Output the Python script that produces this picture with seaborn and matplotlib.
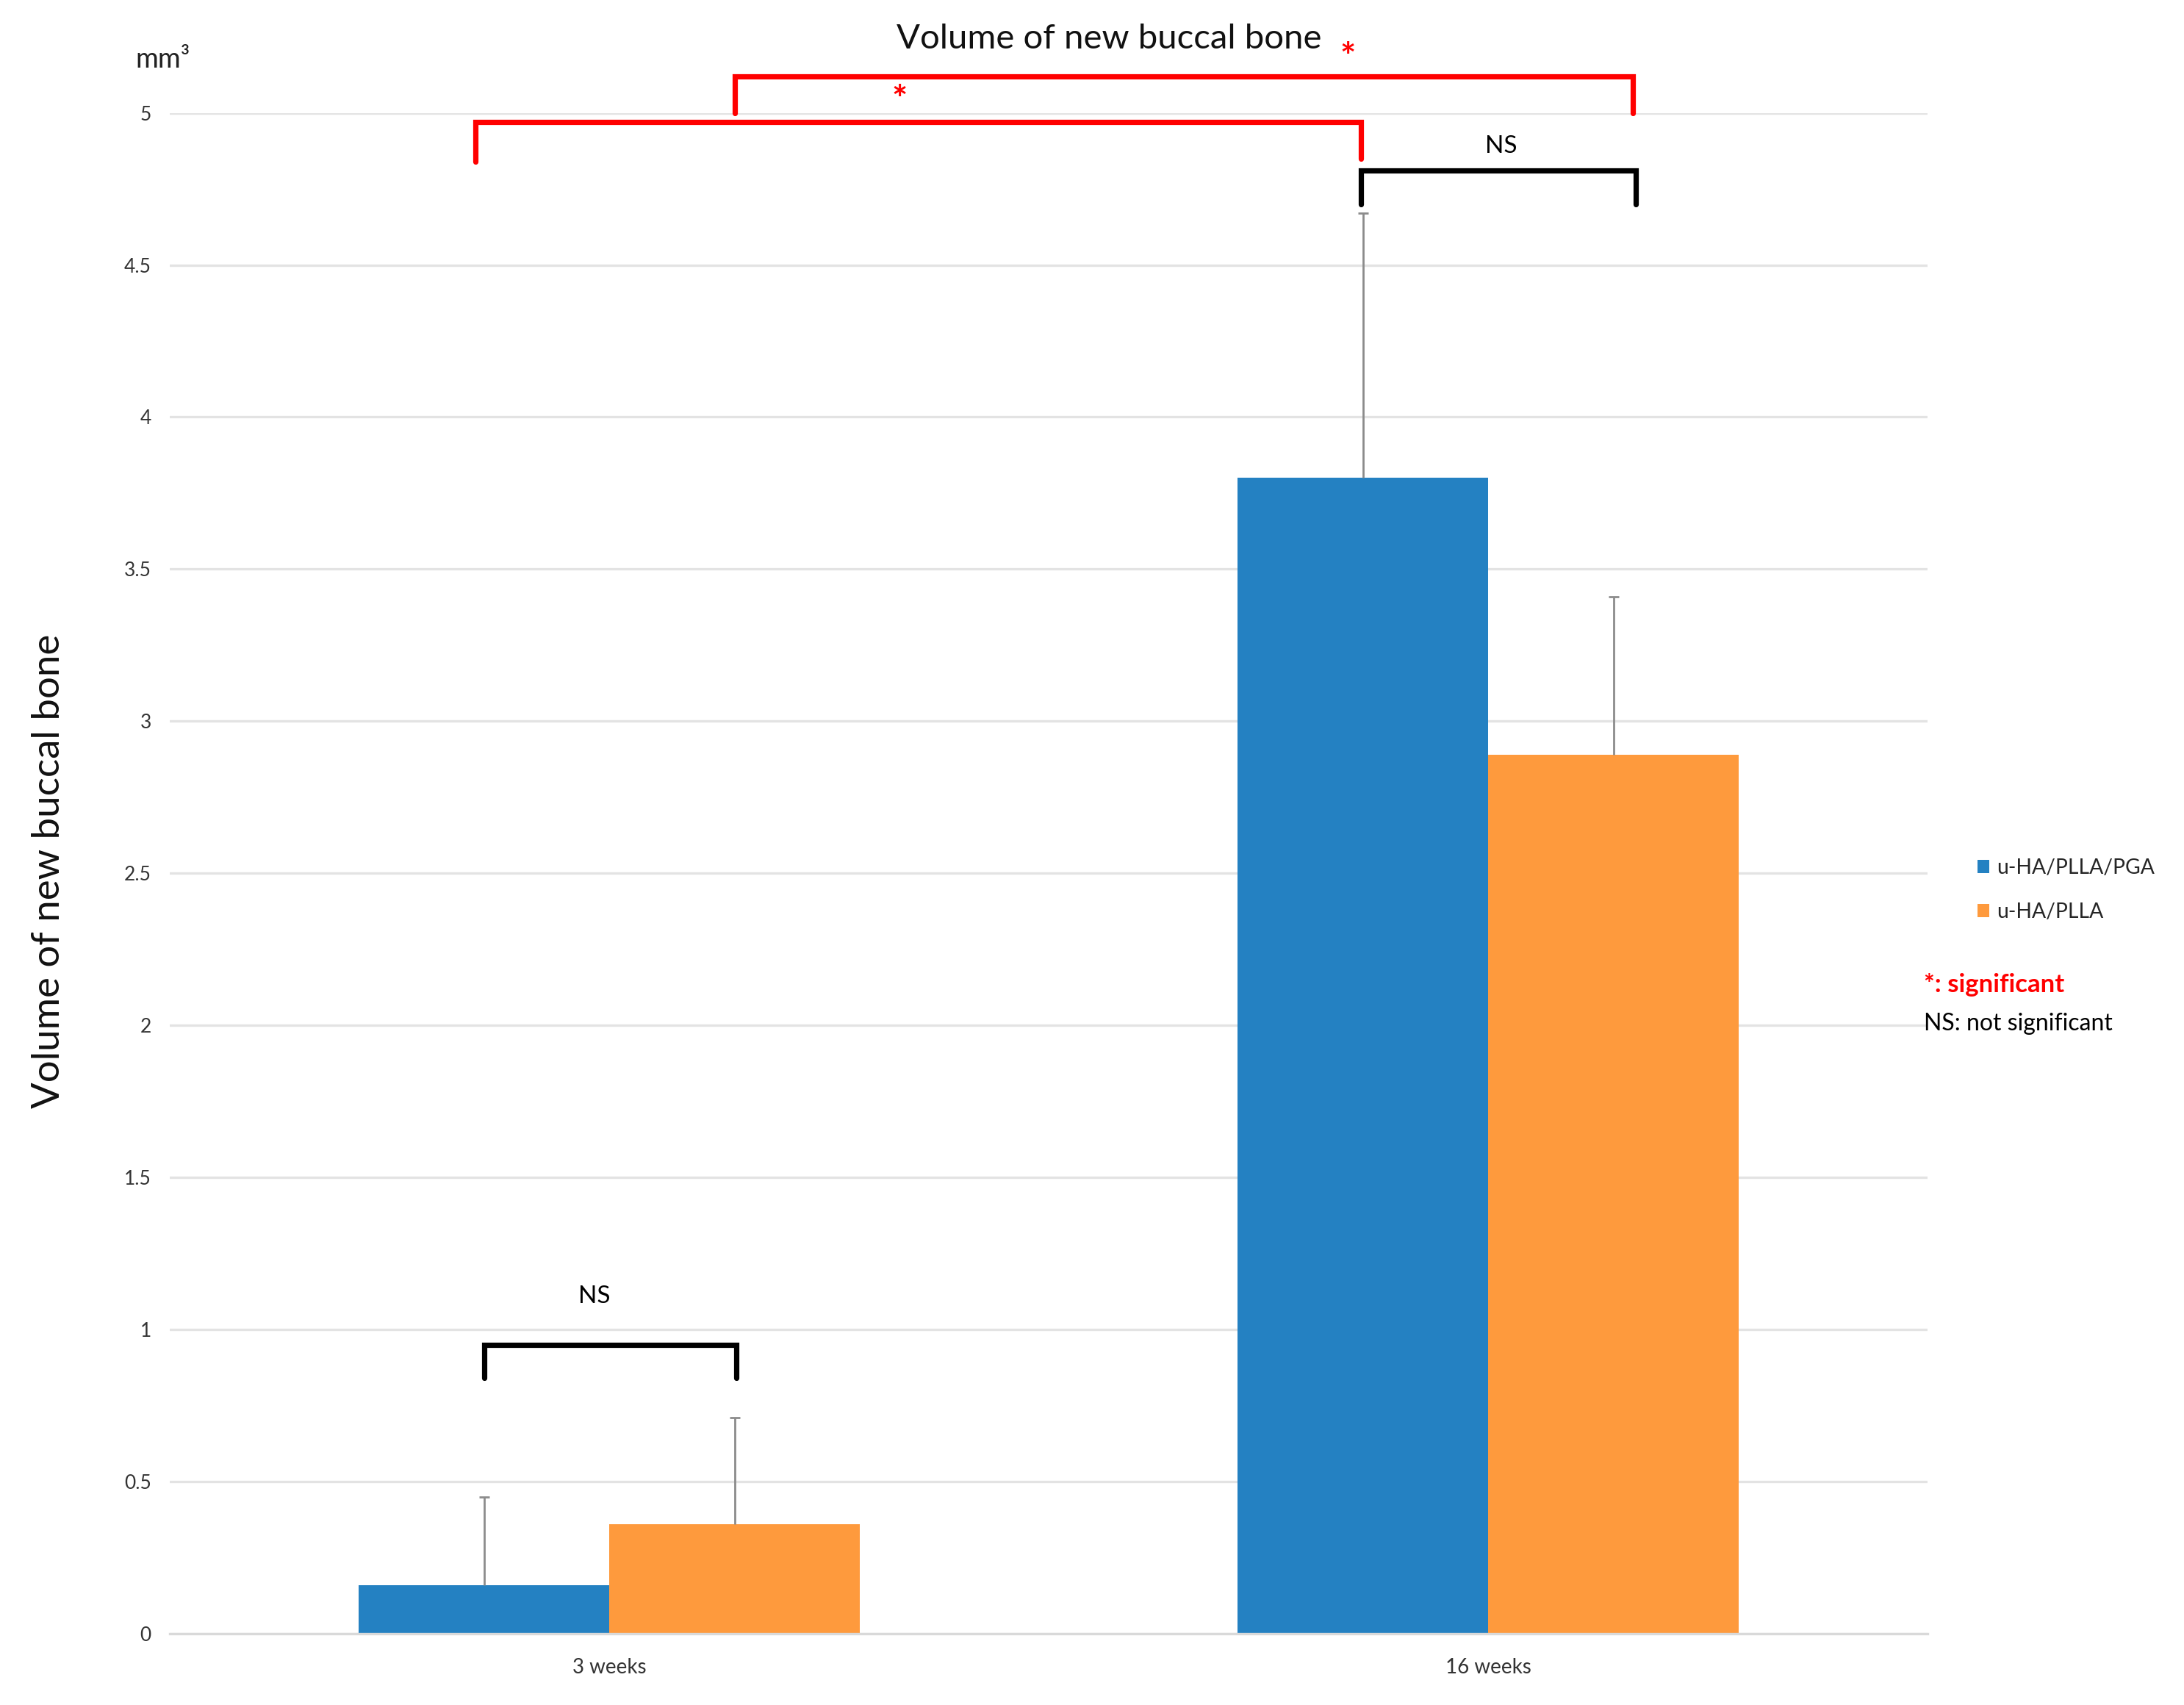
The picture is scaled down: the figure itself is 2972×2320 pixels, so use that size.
import numpy as np
import pandas as pd
import matplotlib
matplotlib.use("Agg")
import matplotlib.pyplot as plt
import seaborn as sns

# Data
weeks = ["3 weeks", "16 weeks"]
groups = ["u-HA/PLLA/PGA", "u-HA/PLLA"]
pga_mean = [0.16, 3.80]
plla_mean = [0.36, 2.89]
pga_sd = [0.29, 0.87]
plla_sd = [0.35, 0.52]

bar_colors = ["#2481C2", "#FE9A3D"]

df = pd.DataFrame({
    "week": weeks * 2,
    "group": [groups[0]] * 2 + [groups[1]] * 2,
    "volume": pga_mean + plla_mean,
})

sns.set_theme(style="white")
plt.rcParams["font.family"] = ["Lato", "DejaVu Sans"]

fig = plt.figure(figsize=(14.86, 11.6), dpi=200)
ax = fig.add_axes([0.0777, 0.0418, 0.805, 0.892])

sns.barplot(data=df, x="week", y="volume", hue="group", order=weeks,
            hue_order=groups, palette=bar_colors, width=0.57, gap=0,
            saturation=1, errorbar=None, ax=ax, legend=True, zorder=2,
            linewidth=0, edgecolor="none")

# error bars (upper side only), centred on each bar
centers = []
for cont, sd in zip(ax.containers, [pga_sd, plla_sd]):
    xs = [p.get_x() + p.get_width() / 2 for p in cont]
    ys = [p.get_height() for p in cont]
    centers.append(xs)
    eb = ax.errorbar(xs, ys, yerr=[np.zeros(len(sd)), sd], fmt="none",
                     ecolor="#8c8c8c", elinewidth=1.0, capsize=2.5,
                     capthick=1.0, zorder=3)
    eb[1][0].set_visible(False)  # hide lower cap

ax.set_xlim(-0.5, 1.5)
ax.set_ylim(0, 5)
ax.set_yticks(np.arange(0, 5.01, 0.5))
ax.set_yticklabels(["0", "0.5", "1", "1.5", "2", "2.5", "3", "3.5", "4", "4.5", "5"])
ax.yaxis.grid(True, color="#e3e3e3", linewidth=1.2, zorder=0)
ax.set_axisbelow(True)
ax.tick_params(axis="x", length=0, labelsize=10, colors="#333333", pad=12)
ax.tick_params(axis="y", length=0, labelsize=9.5, colors="#333333", pad=9)
ax.set_xlabel("")
ax.set_ylabel("")
for s in ["top", "right", "left"]:
    ax.spines[s].set_visible(False)
ax.spines["bottom"].set_color("#d9d9d9")
ax.spines["bottom"].set_linewidth(1.2)

# significance brackets
b3, b16 = centers[0]
o3, o16 = centers[1]
brackets = [
    # x1, x2, top, left end, right end, label, label x, label y, colour
    (b3 - 0.01, b16 - 0.002, 4.97, 4.84, 4.85, "*", 0.33, 5.04, "red"),
    (o3, o16 + 0.022, 5.12, 5.00, 5.00, "*", 0.84, 5.18, "red"),
    (b16 - 0.002, o16 + 0.025, 4.81, 4.70, 4.70, "NS", 1.015, 4.89, "black"),
    (b3, o3 + 0.002, 0.95, 0.84, 0.84, "NS", -0.017, 1.11, "black"),
]
for x1, x2, top, yl, yr, lab, lx, ly, col in brackets:
    ax.plot([x1, x1, x2, x2], [yl, top, top, yr], color=col, lw=2.6,
            solid_joinstyle="miter", clip_on=False, zorder=4)
    if lab == "*":
        ax.text(lx, ly, lab, color=col, fontsize=18, fontweight="bold",
                ha="center", va="center", clip_on=False)
    else:
        ax.text(lx, ly, lab, color=col, fontsize=12, ha="center",
                va="center", clip_on=False)

# legend on the right
ax.legend(loc="center left", bbox_to_anchor=(0.897, 0.478),
          bbox_transform=fig.transFigure, frameon=False, fontsize=10.2,
          handlelength=0.55, handleheight=0.55, handletextpad=0.35,
          labelspacing=1.2)
fig.text(0.881, 0.4224, "*: significant", color="red", fontsize=12.5,
         fontweight="bold", ha="left", va="center")
fig.text(0.881, 0.3995, "NS: not significant", color="black", fontsize=11.5,
         ha="left", va="center")

# titles
fig.text(0.5077, 0.977, "Volume of new buccal bone", fontsize=17,
         ha="center", va="center", color="#111111")
fig.text(0.0746, 0.965, "mm³", fontsize=13.5, ha="center", va="center",
         color="#222222")
fig.text(0.0223, 0.489, "Volume of new buccal bone", fontsize=19,
         rotation=90, ha="center", va="center", color="#111111")

fig.savefig("out.png", dpi=200)
